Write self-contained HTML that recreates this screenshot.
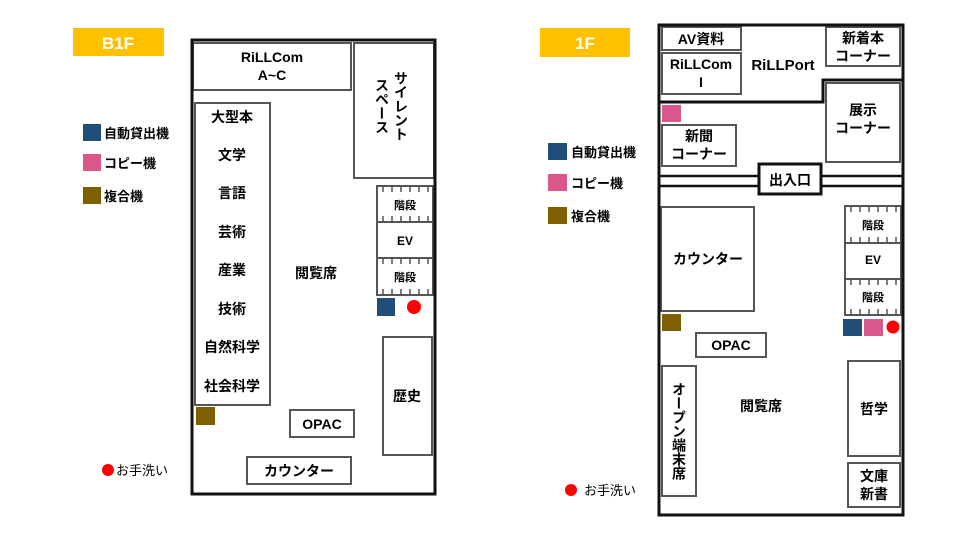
<!DOCTYPE html>
<html><head><meta charset="utf-8"><style>
body{margin:0;background:#fff}
svg text{font-family:"Liberation Sans","Noto Sans CJK JP",sans-serif;font-weight:bold;fill:#000}
</style></head><body>
<svg width="960" height="540" viewBox="0 0 960 540" xmlns="http://www.w3.org/2000/svg">
<g fill="none" stroke="#555" stroke-width="2">
<rect x="193" y="43" width="158" height="47"/>
<rect x="354" y="43" width="80" height="135"/>
<rect x="195" y="103" width="75" height="302"/>
<rect x="383" y="337" width="49" height="118"/>
<rect x="290" y="410" width="64" height="27"/>
<rect x="247" y="457" width="104" height="27"/>
<rect x="377" y="186" width="56" height="36"/>
<rect x="377" y="222" width="56" height="36"/>
<rect x="377" y="258" width="56" height="37"/>
<rect x="662" y="27" width="79" height="23"/>
<rect x="662" y="53" width="79" height="41"/>
<rect x="826" y="27" width="74" height="39"/>
<rect x="826" y="83" width="74" height="79"/>
<rect x="662" y="125" width="74" height="41"/>
<rect x="661" y="207" width="93" height="104"/>
<rect x="845" y="206" width="56" height="37"/>
<rect x="845" y="243" width="56" height="36"/>
<rect x="845" y="279" width="56" height="36"/>
<rect x="696" y="333" width="70" height="24"/>
<rect x="662" y="366" width="34" height="130"/>
<rect x="848" y="361" width="52" height="95"/>
<rect x="848" y="463" width="52" height="44"/>
</g>
<g stroke="#555" stroke-width="1.5">
<path d="M383 187v5M392 187v5M401 187v5M410 187v5M419 187v5M428 187v5M383 221v-5M392 221v-5M401 221v-5M410 221v-5M419 221v-5M428 221v-5"/>
<path d="M383 259v5M392 259v5M401 259v5M410 259v5M419 259v5M428 259v5M383 294v-5M392 294v-5M401 294v-5M410 294v-5M419 294v-5M428 294v-5"/>
<path d="M851 207v5M860 207v5M869 207v5M878 207v5M887 207v5M896 207v5M851 242v-5M860 242v-5M869 242v-5M878 242v-5M887 242v-5M896 242v-5"/>
<path d="M851 280v5M860 280v5M869 280v5M878 280v5M887 280v5M896 280v5M851 314v-5M860 314v-5M869 314v-5M878 314v-5M887 314v-5M896 314v-5"/>
</g>
<g fill="none" stroke="#111" stroke-width="3">
<rect x="192" y="40" width="243" height="454"/>
<rect x="659" y="25" width="244" height="490"/>
<path d="M659 102H823V80H903"/>
<path d="M659 176H759M821 176H903M659 186H759M821 186H903" stroke-width="2.5"/>
<rect x="759" y="164" width="62" height="30" fill="#fff"/>
</g>
<rect x="73" y="28" width="91" height="28" fill="#FFC000"/>
<text x="118" y="49" font-size="17" style="fill:#fff" text-anchor="middle">B1F</text>
<rect x="540" y="28" width="90" height="29" fill="#FFC000"/>
<text x="585" y="49" font-size="17" style="fill:#fff" text-anchor="middle">1F</text>
<rect x="83" y="124" width="18" height="17" fill="#1F4E79"/>
<rect x="83" y="154" width="18" height="17" fill="#D9578A"/>
<rect x="83" y="187" width="18" height="17" fill="#7F6000"/>
<text x="104" y="138" font-size="13">自動貸出機</text>
<text x="104" y="168" font-size="13">コピー機</text>
<text x="104" y="201" font-size="13">複合機</text>
<circle cx="108" cy="470" r="6" fill="#f00"/>
<text x="116" y="475" font-size="13" style="font-weight:normal">お手洗い</text>
<rect x="548" y="143" width="19" height="17" fill="#1F4E79"/>
<rect x="548" y="174" width="19" height="17" fill="#D9578A"/>
<rect x="548" y="207" width="19" height="17" fill="#7F6000"/>
<text x="571" y="157" font-size="13">自動貸出機</text>
<text x="571" y="188" font-size="13">コピー機</text>
<text x="571" y="221" font-size="13">複合機</text>
<circle cx="571" cy="490" r="6" fill="#f00"/>
<text x="584" y="495" font-size="13" style="font-weight:normal">お手洗い</text>
<rect x="377" y="298" width="18" height="18" fill="#1F4E79"/>
<circle cx="414" cy="307" r="7" fill="#f00"/>
<rect x="196" y="407" width="19" height="18" fill="#7F6000"/>
<rect x="662" y="105" width="19" height="17" fill="#D9578A"/>
<rect x="843" y="319" width="19" height="17" fill="#1F4E79"/>
<rect x="864" y="319" width="19" height="17" fill="#D9578A"/>
<circle cx="893" cy="327" r="6.5" fill="#f00"/>
<rect x="662" y="314" width="19" height="17" fill="#7F6000"/>
<g font-size="14" text-anchor="middle">
<text x="272" y="62">RiLLCom</text>
<text x="272" y="80">A~C</text>
<text x="232" y="122">大型本</text>
<text x="232" y="160">文学</text>
<text x="232" y="198">言語</text>
<text x="232" y="237">芸術</text>
<text x="232" y="275">産業</text>
<text x="232" y="314">技術</text>
<text x="232" y="352">自然科学</text>
<text x="232" y="391">社会科学</text>
<text x="316" y="278">閲覧席</text>
<text x="407" y="401">歴史</text>
<text x="322" y="429">OPAC</text>
<text x="299" y="476">カウンター</text>
<text x="405" y="245" font-size="12">EV</text>
<text x="405" y="209" font-size="11">階段</text>
<text x="405" y="281" font-size="11">階段</text>
<text x="401" y="106" style="writing-mode:vertical-rl">サイレント</text>
<text x="382" y="106" style="writing-mode:vertical-rl">スペース</text>
</g>
<g font-size="14" text-anchor="middle">
<text x="701" y="44">AV資料</text>
<text x="701" y="69">RiLLCom</text>
<text x="701" y="87">I</text>
<text x="783" y="70" font-size="15">RiLLPort</text>
<text x="863" y="43">新着本</text>
<text x="863" y="61">コーナー</text>
<text x="863" y="115">展示</text>
<text x="863" y="133">コーナー</text>
<text x="699" y="141">新聞</text>
<text x="699" y="159">コーナー</text>
<text x="790" y="185">出入口</text>
<text x="708" y="264">カウンター</text>
<text x="731" y="350">OPAC</text>
<text x="761" y="411">閲覧席</text>
<text x="874" y="414">哲学</text>
<text x="874" y="481">文庫</text>
<text x="874" y="499">新書</text>
<text x="873" y="264" font-size="12">EV</text>
<text x="873" y="229" font-size="11">階段</text>
<text x="873" y="301" font-size="11">階段</text>
<text x="679" y="431" style="writing-mode:vertical-rl">オープン端末席</text>
</g>
</svg>
</body></html>
